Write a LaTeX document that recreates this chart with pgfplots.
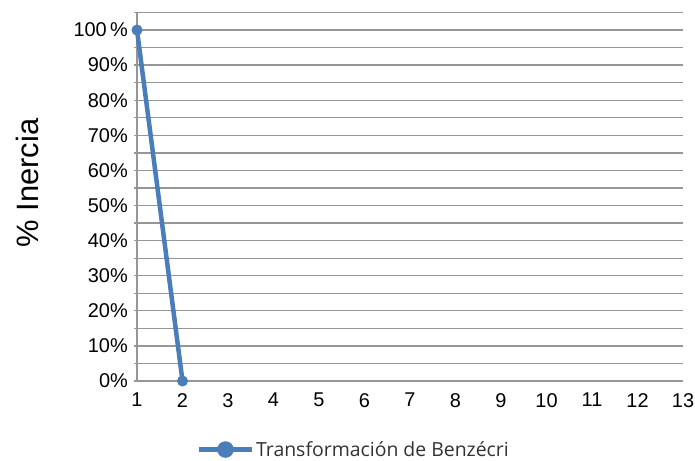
\documentclass[border=0pt]{standalone}
\usepackage{fontspec}
\setmainfont{Liberation Sans}
\newfontfamily\legfont{Open Sans}
\usepackage{pgfplots}
\pgfplotsset{compat=1.18}
\definecolor{serie}{RGB}{74,126,187}
\definecolor{gridc}{RGB}{150,150,150}
\definecolor{legtext}{RGB}{50,50,50}
\begin{document}
\begin{tikzpicture}
\useasboundingbox (0,0) rectangle (695bp,461bp);
\begin{axis}[
  at={(137bp,80bp)}, anchor=south west,
  scale only axis, width=546bp, height=368.5bp,
  xmin=1, xmax=13, ymin=0, ymax=105,
  clip=false,
  axis lines*=left,
  axis line style={gridc, line width=1.3bp},
  xtick={1,2,3,4,5,6,7,8,9,10,11,12,13},
  xticklabels={1,2,3,4,5,6,7,8,9,10,11,12,13},
  ytick={0,10,20,30,40,50,60,70,80,90,100},
  yticklabels={0\%,10\%,20\%,30\%,40\%,50\%,60\%,70\%,80\%,90\%,100\,\%},
  minor ytick={5,15,25,35,45,55,65,75,85,95,105},
  ymajorgrids, yminorgrids,
  grid style={gridc, line width=1.3bp},
  minor grid style={gridc, line width=1.3bp},
  xtick style={draw=none},
  ytick style={gridc, line width=1.3bp},
  minor tick style={gridc, line width=1.3bp},
  tick align=outside,
  major tick length=3bp, minor tick length=3bp,
  ticklabel style={font=\fontsize{20}{24}\selectfont, text=black, inner sep=0pt},
  yticklabel style={xshift=-6bp},
  xticklabel style={yshift=-9bp},
  ylabel={\% Inercia},
  ylabel style={at={(axis description cs:-0.2015,0.537)}, anchor=center, font=\fontsize{31}{36}\selectfont},
  legend style={at={(axis description cs:0.397,-0.186)}, anchor=center, draw=none, fill=none,
    inner sep=0pt, font=\legfont\fontsize{19.5}{22}\selectfont, text=legtext},
  legend image code/.code={
    \draw[serie, line width=4.5bp] (0bp,0bp) -- (53bp,0bp);
    \fill[serie] (26.5bp,0bp) circle (6bp);
  },
]
\addplot[serie, line width=4.5bp, mark=*, mark size=5bp,
  mark options={solid, fill=serie, draw=serie, line width=1bp}]
  coordinates {(1,100) (2,0)};
\addlegendentry{Transformación de Benzécri}
\end{axis}
\end{tikzpicture}
\end{document}
